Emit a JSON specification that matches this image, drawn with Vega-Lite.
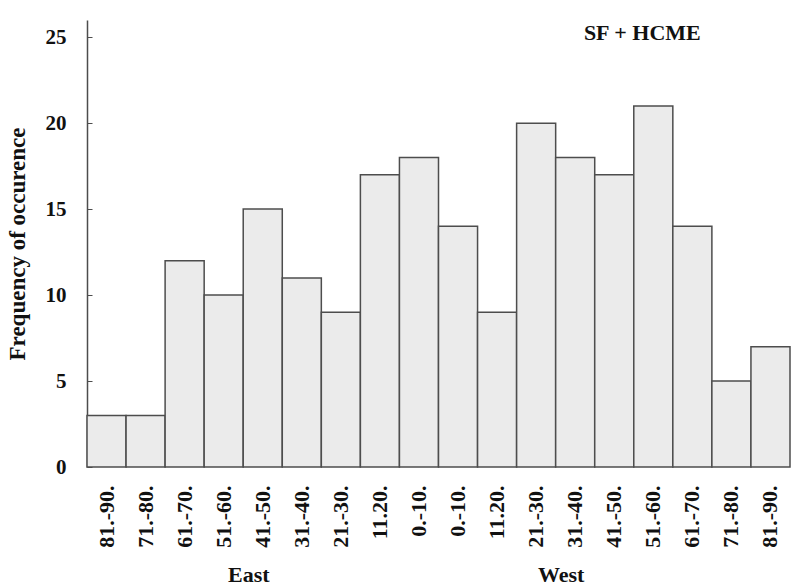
{
  "$schema": "https://vega.github.io/schema/vega-lite/v6.json",
  "width": 703,
  "height": 447,
  "autosize": {"type": "none"},
  "padding": {"left": 87, "top": 20, "right": 1, "bottom": 120},
  "background": "white",
  "config": {"view": {"stroke": null}, "font": "Liberation Serif"},
  "datasets": {
    "bars": [
      {"key": "E:81.-90.", "count": 3},
      {"key": "E:71.-80.", "count": 3},
      {"key": "E:61.-70.", "count": 12},
      {"key": "E:51.-60.", "count": 10},
      {"key": "E:41.-50.", "count": 15},
      {"key": "E:31.-40.", "count": 11},
      {"key": "E:21.-30.", "count": 9},
      {"key": "E:11.20.", "count": 17},
      {"key": "E:0.-10.", "count": 18},
      {"key": "W:0.-10.", "count": 14},
      {"key": "W:11.20.", "count": 9},
      {"key": "W:21.-30.", "count": 20},
      {"key": "W:31.-40.", "count": 18},
      {"key": "W:41.-50.", "count": 17},
      {"key": "W:51.-60.", "count": 21},
      {"key": "W:61.-70.", "count": 14},
      {"key": "W:71.-80.", "count": 5},
      {"key": "W:81.-90.", "count": 7}
    ],
    "groups": [
      {"key": "E:41.-50.", "label": "East"},
      {"key": "W:31.-40.", "label": "West"}
    ],
    "title": [
      {"key": "W:51.-60.", "label": "SF + HCME"}
    ]
  },
  "layer": [
    {
      "data": {"name": "bars"},
      "mark": {"type": "bar", "fill": "#ebebeb", "stroke": "#4d4d4d", "strokeWidth": 1.5},
      "encoding": {
        "x": {
          "field": "key",
          "type": "nominal",
          "sort": null,
          "scale": {"paddingInner": 0, "paddingOuter": 0},
          "axis": {
            "title": null,
            "labelExpr": "split(datum.value, ':')[1]",
            "labelAngle": -90,
            "labelAlign": "right",
            "labelBaseline": "middle",
            "labelFont": "Liberation Serif",
            "labelFontWeight": "bold",
            "labelFontSize": 22,
            "labelColor": "#111",
            "labelPadding": 18,
            "ticks": false,
            "domain": false
          }
        },
        "y": {
          "field": "count",
          "type": "quantitative",
          "scale": {"domain": [0, 25]},
          "axis": {
            "title": "Frequency of occurence",
            "titleFont": "Liberation Serif",
            "titleFontWeight": "bold",
            "titleFontSize": 23,
            "titleColor": "#111",
            "titlePadding": 16,
            "values": [0, 5, 10, 15, 20, 25],
            "labelFont": "Liberation Serif",
            "labelFontWeight": "bold",
            "labelFontSize": 21,
            "labelColor": "#111",
            "tickSize": -5,
            "tickColor": "#4d4d4d",
            "labelPadding": 26,
            "domainColor": "#4d4d4d",
            "domainWidth": 1.5,
            "grid": false
          }
        }
      }
    },
    {
      "data": {"name": "groups"},
      "mark": {"type": "text", "font": "Liberation Serif", "fontWeight": "bold", "fontSize": 22, "color": "#111", "baseline": "middle", "align": "center", "dx": -14, "dy": 108},
      "encoding": {
        "x": {"field": "key", "type": "nominal", "sort": null},
        "y": {"datum": 0},
        "text": {"field": "label"}
      }
    },
    {
      "data": {"name": "title"},
      "mark": {"type": "text", "font": "Liberation Serif", "fontWeight": "bold", "fontSize": 22, "color": "#111", "baseline": "middle", "align": "center", "dx": -11, "dy": -4},
      "encoding": {
        "x": {"field": "key", "type": "nominal", "sort": null},
        "y": {"datum": 25},
        "text": {"field": "label"}
      }
    }
  ]
}
